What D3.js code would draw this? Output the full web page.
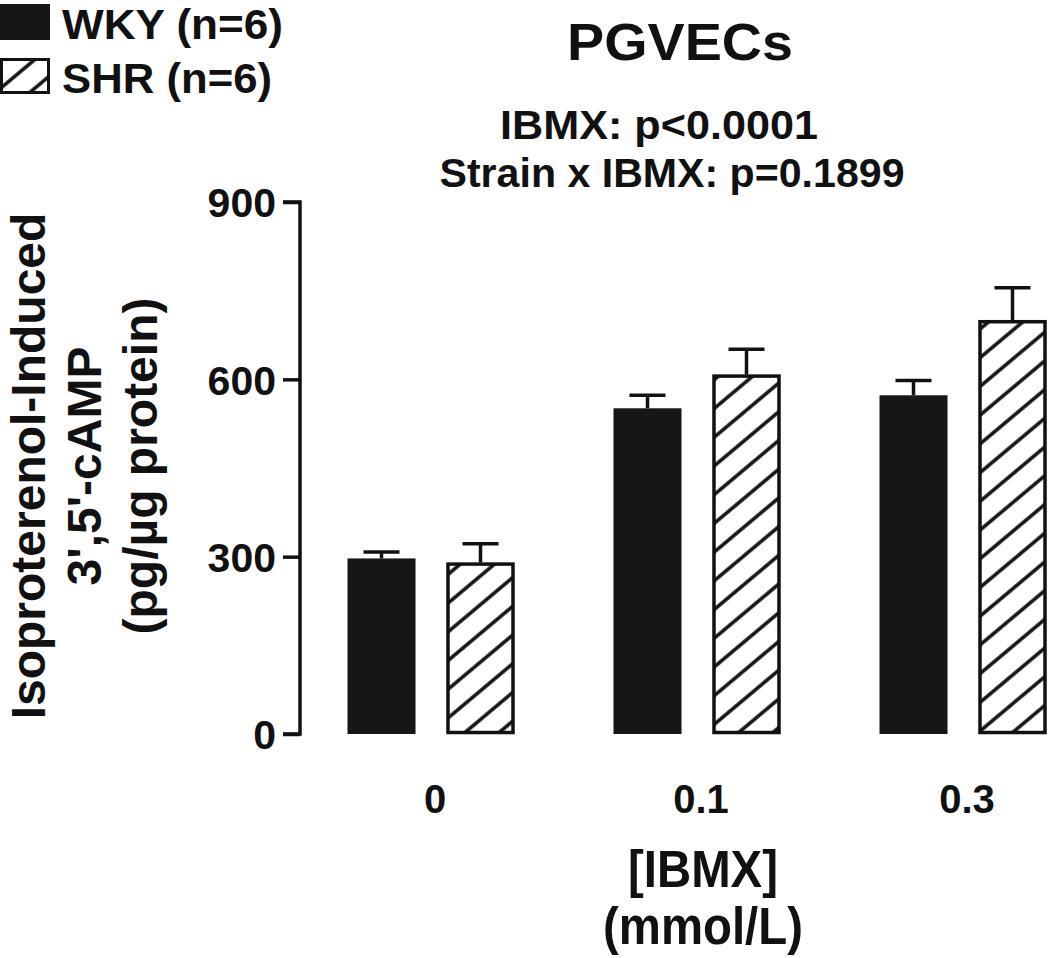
<!DOCTYPE html>
<html><head><meta charset="utf-8">
<script src="https://cdn.jsdelivr.net/npm/d3@7"></script>
<style>html,body{margin:0;padding:0;background:#fff;} svg{display:block;font-family:"Liberation Sans",Arial,sans-serif;font-weight:bold;}</style>
</head><body>
<script>
const categories = ["0", "0.1", "0.3"];
const seriesNames = ["WKY", "SHR"];
const legendLabels = ["WKY (n=6)", "SHR (n=6)"];
const wkyValues = [297, 551, 573];
const wkyErrors = [11, 22, 25];
const shrValues = [290, 608, 700];
const shrErrors = [32, 43, 55];
const yTicks = [0, 300, 600, 900];
const yTitleLines = ["Isoproterenol-Induced", "3',5'-cAMP", "(pg/\u00B5g protein)"];
const xTitleLines = ["[IBMX]", "(mmol/L)"];

const W = 1050, H = 958;
const svg = d3.select("body").append("svg").attr("width", W).attr("height", H);
const defs = svg.append("defs");
const pat = defs.append("pattern").attr("id","hatch").attr("patternUnits","userSpaceOnUse")
  .attr("width",22).attr("height",22).attr("patternTransform","rotate(50)");
pat.append("rect").attr("width",22).attr("height",22).attr("fill","#fff");
pat.append("line").attr("x1",2).attr("y1",0).attr("x2",2).attr("y2",22).attr("stroke","#111").attr("stroke-width",3.5);

const y = d3.scaleLinear().domain([0, 900]).range([734, 202]);
const x0 = d3.scaleBand().domain(categories).range([298, 1096]).paddingInner(0).paddingOuter(0);
const x1 = d3.scaleBand().domain(seriesNames).range([-83.5, 83.5]).paddingInner(0.313).paddingOuter(0);

const data = [];
categories.forEach((c,i)=>{
  data.push({cat:c, s:"WKY", v:wkyValues[i], e:wkyErrors[i]});
  data.push({cat:c, s:"SHR", v:shrValues[i], e:shrErrors[i]});
});
const cx = d => x0(d.cat) + x0.bandwidth()/2;

// error bars
const eg = svg.append("g");
data.forEach(d=>{
  const mx = cx(d) + x1(d.s) + x1.bandwidth()/2;
  eg.append("line").attr("x1",mx).attr("x2",mx).attr("y1",y(d.v)).attr("y2",y(d.v+d.e)).attr("stroke","#111").attr("stroke-width",3.5);
  eg.append("line").attr("x1",mx-18).attr("x2",mx+18).attr("y1",y(d.v+d.e)).attr("y2",y(d.v+d.e)).attr("stroke","#111").attr("stroke-width",3.5);
});

// bars
svg.append("g").selectAll("rect").data(data).join("rect")
  .attr("x", d => cx(d) + x1(d.s) + (d.s==="SHR"?1.5:0))
  .attr("y", d => y(d.v) + (d.s==="SHR"?1.5:0))
  .attr("width", d => x1.bandwidth() - (d.s==="SHR"?3:0))
  .attr("height", d => y(0) - y(d.v) - (d.s==="SHR"?3:0))
  .attr("fill", d => d.s==="WKY" ? "#161616" : "url(#hatch)")
  .attr("stroke", d => d.s==="WKY" ? "none" : "#111")
  .attr("stroke-width", 3.5);

// y axis
const yAxis = d3.axisLeft(y).tickValues(yTicks).tickSize(17).tickPadding(7).tickFormat(d3.format("d"));
const ya = svg.append("g").attr("transform","translate(300,0)").call(yAxis);
ya.select(".domain").attr("stroke","#111").attr("stroke-width",3.5).attr("d","M-17,202H0V734H-17");
ya.selectAll(".tick line").attr("stroke","#111").attr("stroke-width",3.5);
ya.selectAll(".tick text").attr("font-size",41).attr("font-family","Liberation Sans, Arial, sans-serif").attr("font-weight","bold").attr("fill","#111").attr("dy","0.36em");

// x tick labels
svg.append("g").selectAll("text").data(categories).join("text")
  .attr("x", c => x0(c)+x0.bandwidth()/2 + 4).attr("y", 813)
  .attr("text-anchor","middle").attr("font-size",40).attr("fill","#111").text(c=>c);

// x title
svg.append("text").attr("x",703).attr("y",887).attr("text-anchor","middle").attr("font-size",51)
  .attr("textLength",150).attr("lengthAdjust","spacingAndGlyphs").attr("fill","#111").text(xTitleLines[0]);
svg.append("text").attr("x",703).attr("y",944).attr("text-anchor","middle").attr("font-size",51)
  .attr("textLength",200).attr("lengthAdjust","spacingAndGlyphs").attr("fill","#111").text(xTitleLines[1]);

// y title
const yt = svg.append("g").attr("transform","translate(0,466) rotate(-90)");
[45, 101, 157].forEach((b,i)=>{
  yt.append("text").attr("x",0).attr("y",b).attr("text-anchor","middle").attr("font-size",48).attr("fill","#111").text(yTitleLines[i]);
});

// title & stats
svg.append("text").attr("x",680).attr("y",60).attr("text-anchor","middle").attr("font-size",52)
  .attr("textLength",226).attr("lengthAdjust","spacingAndGlyphs").attr("fill","#111").text("PGVECs");
svg.append("text").attr("x",659).attr("y",139).attr("text-anchor","middle").attr("font-size",41)
  .attr("textLength",318).attr("lengthAdjust","spacingAndGlyphs").attr("fill","#111").text("IBMX: p<0.0001");
svg.append("text").attr("x",672).attr("y",187).attr("text-anchor","middle").attr("font-size",41)
  .attr("textLength",465).attr("lengthAdjust","spacingAndGlyphs").attr("fill","#111").text("Strain x IBMX: p=0.1899");

// legend
const lg = svg.append("g");
const legendWidths = [221, 210];
legendLabels.forEach((t,i)=>{
  const yy = 4 + i*54;
  lg.append("rect").attr("x", i===0?0:1.5).attr("y", yy+(i===0?0:1.5)).attr("width", i===0?50:47).attr("height", i===0?36:33)
    .attr("fill", i===0?"#161616":"url(#hatch)").attr("stroke", i===0?"none":"#111").attr("stroke-width",3);
  lg.append("text").attr("x",62).attr("y",yy+35).attr("font-size",43)
    .attr("textLength",legendWidths[i]).attr("lengthAdjust","spacingAndGlyphs").attr("fill","#111").text(t);
});
</script>
</body></html>
